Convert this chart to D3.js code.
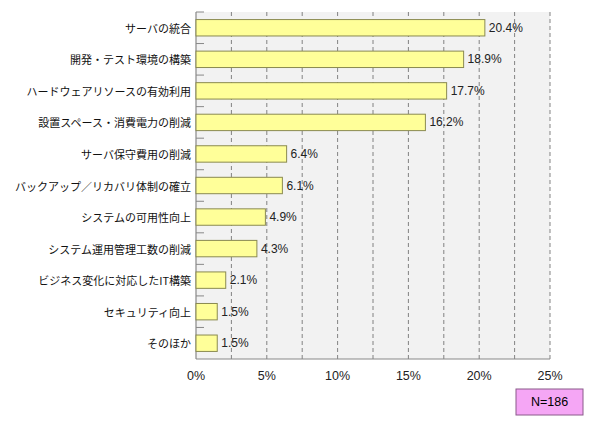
<!DOCTYPE html>
<html>
<head>
<meta charset="utf-8">
<script src="https://cdn.jsdelivr.net/npm/d3@7"></script>
<style>body{margin:0;background:#fff}</style>
</head>
<body>
<svg id="chart" width="590" height="430"></svg>
<script>
const categories = ["サーバの統合", "開発・テスト環境の構築", "ハードウェアリソースの有効利用", "設置スペース・消費電力の削減", "サーバ保守費用の削減", "バックアップ／リカバリ体制の確立", "システムの可用性向上", "システム運用管理工数の削減", "ビジネス変化に対応したIT構築", "セキュリティ向上", "そのほか"];
const values = [20.4, 18.9, 17.7, 16.2, 6.4, 6.1, 4.9, 4.3, 2.1, 1.5, 1.5];
const xTicks = [0, 5, 10, 15, 20, 25];
const gridTicks = [2.5, 5, 7.5, 10, 12.5, 15, 17.5, 20, 22.5, 25];

const svg = d3.select("#chart").attr("font-family", "'Noto Sans CJK JP', sans-serif");
const plotLeft = 196, plotRight = 550, plotTop = 12, plotBottom = 359;

const x = d3.scaleLinear().domain([0, 25]).range([plotLeft, plotRight]);
const y = d3.scaleBand().domain(categories).range([plotTop, plotBottom]).paddingInner(0.48).paddingOuter(0.24);
const band = d3.scaleBand().domain(categories).range([plotTop, plotBottom]);

svg.append("rect").attr("x", plotLeft).attr("y", plotTop).attr("width", plotRight - plotLeft).attr("height", plotBottom - plotTop).attr("fill", "#f2f2f2");

svg.selectAll(".grid").data(gridTicks).enter().append("line")
  .attr("x1", d => x(d)).attr("x2", d => x(d)).attr("y1", plotTop).attr("y2", plotBottom)
  .attr("stroke", "#666").attr("stroke-dasharray", "4,3").attr("stroke-width", 0.8);

// category tick marks on left axis
svg.selectAll(".ctick").data(categories).enter().append("line")
  .attr("x1", plotLeft).attr("x2", plotLeft + 8).attr("y1", d => band(d)).attr("y2", d => band(d))
  .attr("stroke", "#888");

svg.append("line").attr("x1", plotLeft).attr("x2", plotLeft).attr("y1", plotTop).attr("y2", plotBottom).attr("stroke", "#888").attr("stroke-width", 1.2);
svg.append("line").attr("x1", plotLeft).attr("x2", plotRight).attr("y1", plotBottom).attr("y2", plotBottom).attr("stroke", "#888").attr("stroke-width", 1.2);

svg.selectAll(".bar").data(values).enter().append("rect")
  .attr("x", plotLeft).attr("y", (d, i) => y(categories[i]))
  .attr("width", d => x(d) - plotLeft).attr("height", y.bandwidth())
  .attr("fill", "#ffff99").attr("stroke", "#8a8a50").attr("stroke-width", 1);

svg.selectAll(".val").data(values).enter().append("text")
  .attr("x", d => x(d) + 4).attr("y", (d, i) => y(categories[i]) + y.bandwidth() / 2)
  .attr("dominant-baseline", "central").attr("font-size", 12).attr("fill", "#222")
  .attr("font-family", "'Liberation Sans', Arial, sans-serif")
  .text(d => d.toFixed(1) + "%");

svg.selectAll(".cat").data(categories).enter().append("text")
  .attr("x", plotLeft - 5).attr("y", d => y(d) + y.bandwidth() / 2)
  .attr("dominant-baseline", "central").attr("text-anchor", "end").attr("font-size", 11).attr("fill", "#111")
  .text(d => d);

svg.selectAll(".xt").data(xTicks).enter().append("text")
  .attr("x", d => x(d)).attr("y", 380).attr("text-anchor", "middle").attr("font-size", 12.5)
  .attr("font-family", "'Liberation Sans', Arial, sans-serif").attr("fill", "#222")
  .text(d => d + "%");

svg.append("rect").attr("x", 516).attr("y", 389).attr("width", 67).attr("height", 26)
  .attr("fill", "#f5a6f5").attr("stroke", "#8a5a8a");
svg.append("text").attr("x", 549.5).attr("y", 402).attr("text-anchor", "middle").attr("dominant-baseline", "central")
  .attr("font-size", 12.5).attr("font-family", "'Liberation Sans', Arial, sans-serif").text("N=186");
</script>
</body>
</html>
